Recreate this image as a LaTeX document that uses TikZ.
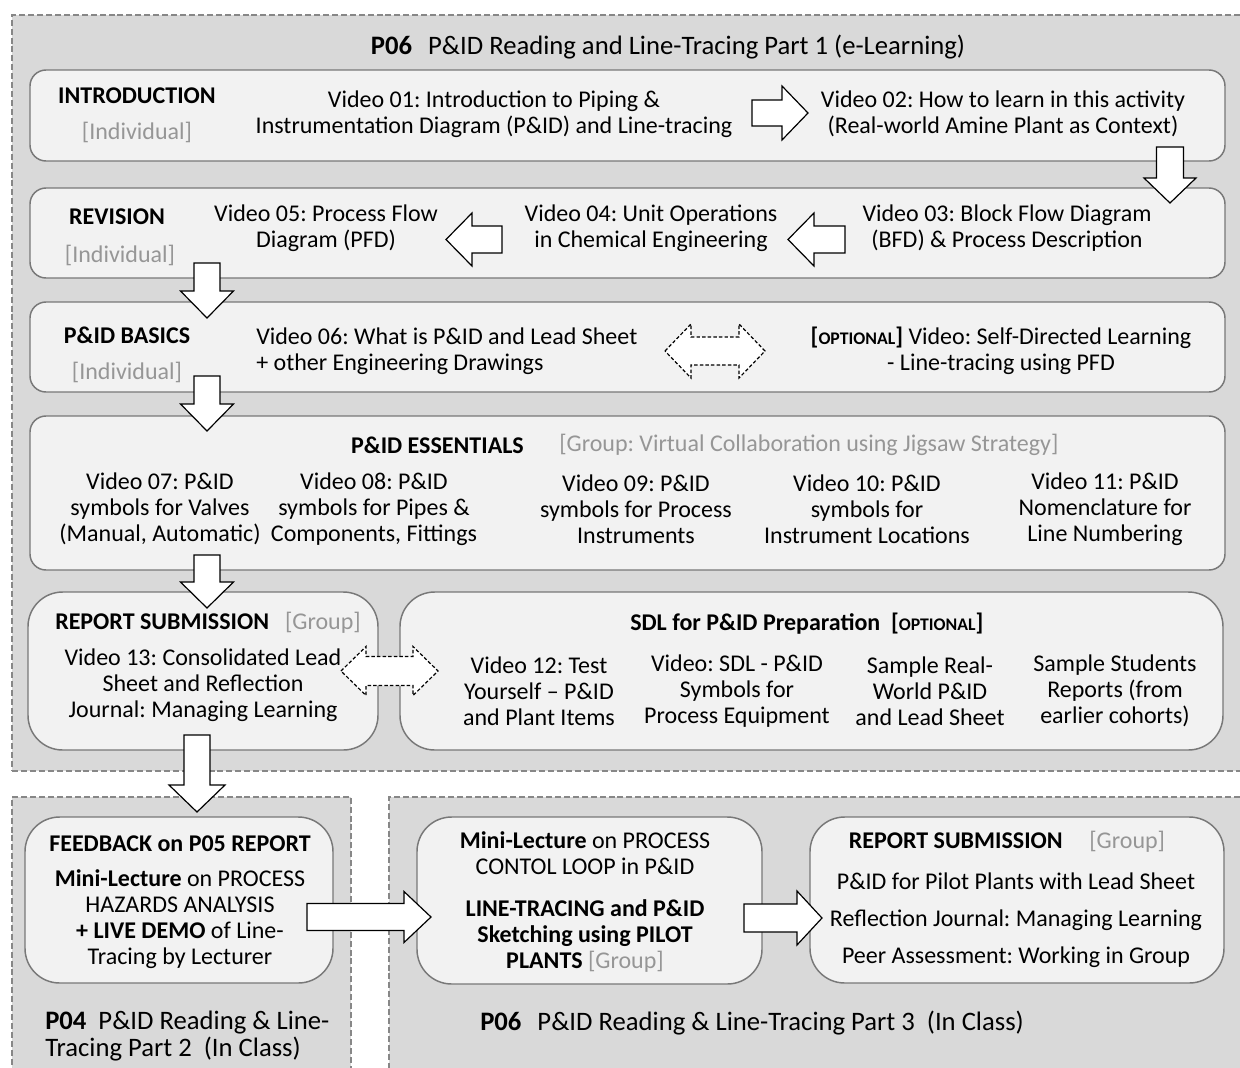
\documentclass[tikz,border=0pt]{standalone}
\usepackage{fontspec}
\setmainfont{Carlito}
\usetikzlibrary{fit}
\definecolor{panelfill}{RGB}{217,217,217}
\definecolor{boxfill}{RGB}{242,242,242}
\definecolor{boxline}{RGB}{120,120,120}
\definecolor{dashline}{RGB}{135,135,135}
\definecolor{grayt}{RGB}{150,150,150}
\newcommand\optl{\textbf{[{\fontsize{13.3}{15}\selectfont OPTIONAL}]}}
% horizontal block arrow: opts, x start, x tip, y centre, body half, head half, head length (signed)
\newcommand\harr[7][]{\draw[barrow,#1] (#2,{#4-#5}) -- ({#3-(#7)},{#4-#5}) -- ({#3-(#7)},{#4-#6}) -- (#3,#4) -- ({#3-(#7)},{#4+#6}) -- ({#3-(#7)},{#4+#5}) -- (#2,{#4+#5}) -- cycle;}
% vertical (down) block arrow: opts, y start, y tip, x centre, body half, head half, head length
\newcommand\varr[7][]{\draw[barrow,#1] ({#4-#5},#2) -- ({#4-#5},{#3-(#7)}) -- ({#4-#6},{#3-(#7)}) -- (#4,#3) -- ({#4+#6},{#3-(#7)}) -- ({#4+#5},{#3-(#7)}) -- ({#4+#5},#2) -- cycle;}
% double dashed block arrow: x tip1, x tip2, y centre, body half, head half, head length
\newcommand\dharr[6]{\draw[barrow,dash pattern=on 2.6pt off 1.6pt] (#1,#3) -- ({#1+#6},{#3-#5}) -- ({#1+#6},{#3-#4}) -- ({#2-#6},{#3-#4}) -- ({#2-#6},{#3-#5}) -- (#2,#3) -- ({#2-#6},{#3+#5}) -- ({#2-#6},{#3+#4}) -- ({#1+#6},{#3+#4}) -- ({#1+#6},{#3+#5}) -- cycle;}
\begin{document}
\frenchspacing
\begin{tikzpicture}[x=0.75pt,y=-0.75pt,
  panel/.style={fill=panelfill, draw=dashline, line width=1.1pt, dash pattern=on 4.5pt off 2.2pt, inner sep=0pt},
  box/.style={fill=boxfill, draw=boxline, line width=1.1pt, rounded corners=12pt, inner sep=0pt},
  bigbox/.style={box, rounded corners=26pt},
  txt/.style={align=center, inner sep=0pt, font=\fontsize{18}{19.5}\selectfont},
  ttl/.style={txt, font=\fontsize{20}{20.3}\selectfont},
  barrow/.style={fill=white, draw=black, line width=0.9pt, line join=miter}]
\useasboundingbox (0,0) rectangle (1240,1068);
\clip (0,0) rectangle (1240,1068);
% panels
\node[panel, fit={(12,15)(1262,771)}] (p1) {};
\node[panel, fit={(12,797)(351,1090)}] (p2) {};
\node[panel, fit={(389,797)(1262,1090)}] (p3) {};
\node[ttl] (title1) at (668,47) {\textbf{P06}\hspace{0.6em}P\&ID Reading and Line-Tracing Part 1 (e-Learning)};
% row 1
\node[box, fit={(30,70)(1225,161)}] (b1) {};
\node[txt] (intro) at (137,96) {\textbf{INTRODUCTION}};
\node[txt, text=grayt] (introg) at (137,132) {[Individual]};
\node[txt] (v01) at (494,114) {Video 01: Introduction to Piping \&\\Instrumentation Diagram (P\&ID) and Line-tracing};
\node[txt] (v02) at (1003,114) {Video 02: How to learn in this activity\\(Real-world Amine Plant as Context)};
% row 2
\node[box, fit={(30,188)(1225,278)}] (b2) {};
\node[txt] (rev) at (117,217) {\textbf{REVISION}};
\node[txt, text=grayt] (revg) at (120,255) {[Individual]};
\node[txt] (v05) at (326,228) {Video 05: Process Flow\\Diagram (PFD)};
\node[txt] (v04) at (651,228) {Video 04: Unit Operations\\in Chemical Engineering};
\node[txt] (v03) at (1007,228) {Video 03: Block Flow Diagram\\(BFD) \& Process Description};
% row 3
\node[box, fit={(30,302)(1225,392)}] (b3) {};
\node[txt] (basics) at (127,335) {\textbf{P\&ID BASICS}};
\node[txt, text=grayt] (basicsg) at (127,372) {[Individual]};
\node[txt, align=left, anchor=west] (v06) at (256,351) {Video 06: What is P\&ID and Lead Sheet\\+ other Engineering Drawings};
\node[txt] (opt1) at (1001,351) {\optl{} Video: Self-Directed Learning\\- Line-tracing using PFD};
% row 4
\node[box, fit={(30,416)(1225,570)}] (b4) {};
\node[txt, anchor=east] (ess) at (524,445) {\textbf{P\&ID ESSENTIALS}};
\node[txt, anchor=west, text=grayt] (essg) at (559,445) {[Group: Virtual Collaboration using Jigsaw Strategy]};
\node[txt] (v07) at (160,509) {Video 07: P\&ID\\symbols for Valves\\(Manual, Automatic)};
\node[txt] (v08) at (374,509) {Video 08: P\&ID\\symbols for Pipes \&\\Components, Fittings};
\node[txt] (v09) at (636,509) {Video 09: P\&ID\\symbols for Process\\Instruments};
\node[txt] (v10) at (867,509) {Video 10: P\&ID\\symbols for\\Instrument Locations};
\node[txt] (v11) at (1105,509) {Video 11: P\&ID\\Nomenclature for\\Line Numbering};
% row 5
\node[bigbox, fit={(28,592)(378,750)}] (b5a) {};
\node[txt] (rs1) at (208,623) {\textbf{REPORT SUBMISSION}\hspace{12pt}{\color{grayt}[Group]}};
\node[txt] (v13) at (203,685) {Video 13: Consolidated Lead\\Sheet and Reflection\\Journal: Managing Learning};
\node[bigbox, fit={(400,592)(1223,750)}] (b5b) {};
\node[txt, anchor=west] (sdl) at (630,624) {\textbf{SDL for P\&ID Preparation}\hspace{8pt}\optl};
\node[txt] (v12) at (539,691) {Video 12: Test\\Yourself – P\&ID\\and Plant Items};
\node[txt] (vsdl) at (737,691) {Video: SDL - P\&ID\\Symbols for\\Process Equipment};
\node[txt] (samp) at (930,691) {Sample Real-\\World P\&ID\\and Lead Sheet};
\node[txt] (stud) at (1115,691) {Sample Students\\Reports (from\\earlier cohorts)};
% bottom
\node[bigbox, fit={(25,817)(333,983)}] (b6a) {};
\node[txt] (fb) at (180,902) {\textbf{FEEDBACK on P05 REPORT}\\[7pt]\textbf{Mini-Lecture} on PROCESS\\HAZARDS ANALYSIS\\\textbf{+ LIVE DEMO} of Line-\\Tracing by Lecturer};
\node[ttl, align=left, anchor=west] (p04) at (45,1036) {\textbf{P04}\hspace{0.45em}P\&ID Reading \& Line-\\Tracing Part 2\hspace{0.45em}(In Class)};
\node[bigbox, fit={(417,817)(762,984)}] (b6b) {};
\node[txt] (ml) at (585,902) {\textbf{Mini-Lecture} on PROCESS\\CONTOL LOOP in P\&ID\\[12pt]\textbf{LINE-TRACING and P\&ID}\\\textbf{Sketching using PILOT}\\\textbf{PLANTS} {\color{grayt}[Group]}};
\node[bigbox, fit={(810,817)(1224,983)}] (b6c) {};
\node[txt] (rs2) at (1007,842) {\textbf{REPORT SUBMISSION}\hspace{20pt}{\color{grayt}[Group]}};
\node[txt] (rs2l) at (1016,920) {P\&ID for Pilot Plants with Lead Sheet\\[8.25pt]Reflection Journal: Managing Learning\\[8.25pt]Peer Assessment: Working in Group};
\node[ttl, anchor=west] (p06b) at (480,1023) {\textbf{P06}\hspace{0.6em}P\&ID Reading \& Line-Tracing Part 3\hspace{0.45em}(In Class)};
% block arrows
\harr{752}{808}{113}{13}{27}{26}
\varr{147}{203}{1170}{13.5}{26}{25}
\harr{845}{788}{239.5}{13.5}{26.5}{-26}
\harr{502}{446}{239.5}{13.5}{26.5}{-26}
\varr{263}{318}{207}{13}{26.5}{27}
\varr{376}{431}{207}{13}{26.5}{27}
\varr{555}{608}{207}{13}{26.5}{26}
\varr{735}{812}{197}{13}{28}{27}
\harr{307}{431}{917}{13.5}{25.5}{27}
\harr{744}{822}{918}{14}{27}{25}
\dharr{665}{765}{351}{14}{27}{26}
\dharr{341}{438}{671}{14.5}{24.5}{25}
\end{tikzpicture}
\end{document}
